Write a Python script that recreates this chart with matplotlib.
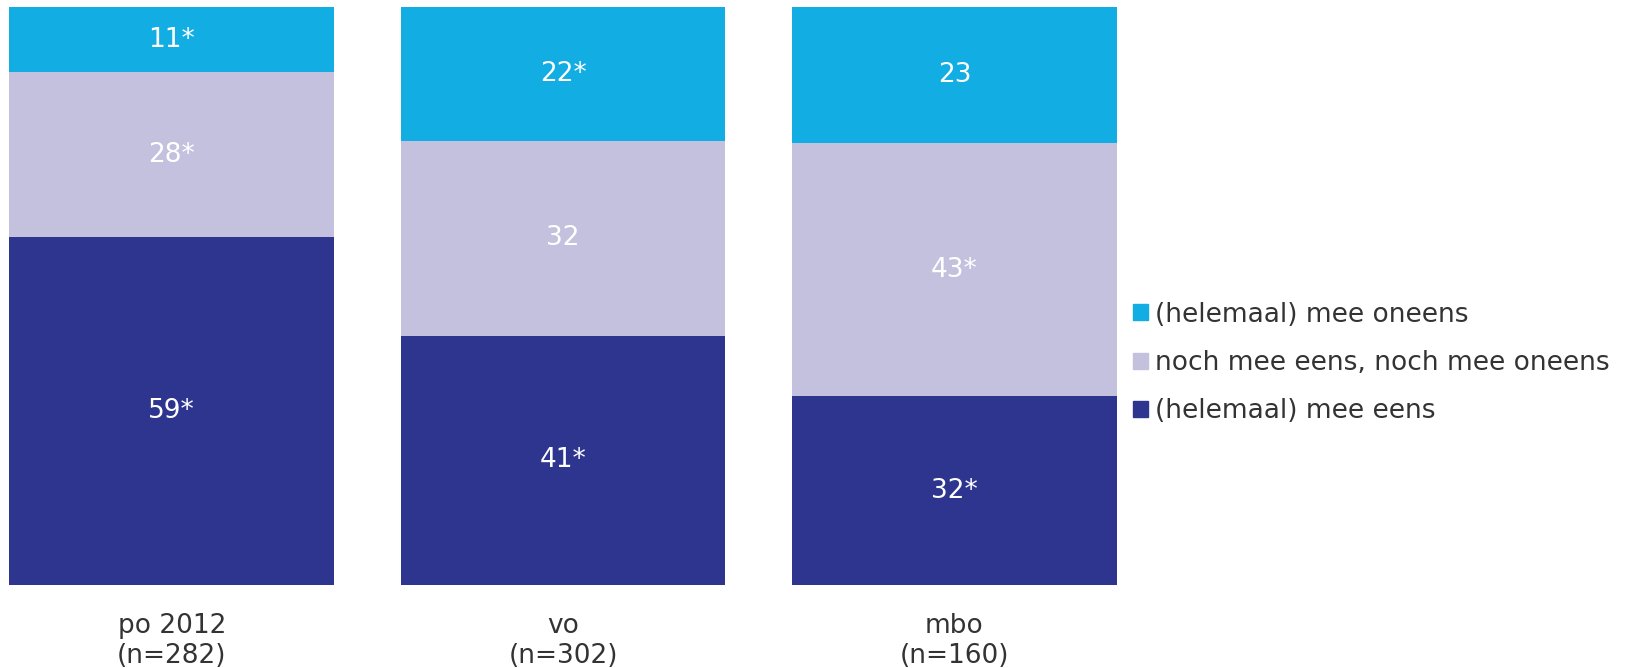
import matplotlib.pyplot as plt
import numpy as np
from matplotlib.patches import Patch

categories = ['po 2012\n(n=282)', 'vo\n(n=302)', 'mbo\n(n=160)']
eens = [59, 41, 32]
noch = [28, 32, 43]
oneens = [11, 22, 23]
eens_lbl = ['59*', '41*', '32*']
noch_lbl = ['28*', '32', '43*']
oneens_lbl = ['11*', '22*', '23']
series_names = ['(helemaal) mee eens', 'noch mee eens, noch mee oneens', '(helemaal) mee oneens']
colors = ['#2e358f', '#c4c1df', '#12ade3']

plt.rcParams['font.family'] = 'DejaVu Sans'
fs = 19

fig = plt.figure(figsize=(16.29, 6.68), dpi=100)
ax = fig.add_axes([9.35 / 1629, 83 / 668, 1107.45 / 1629, 577.7 / 668])

data = np.array([eens, noch, oneens], dtype=float)
pct = data / data.sum(axis=0) * 100
labels = [eens_lbl, noch_lbl, oneens_lbl]

x = np.arange(len(categories))
bottom = np.zeros(len(categories))
for i in range(3):
    bars = ax.bar(x, pct[i], bottom=bottom, width=0.83, color=colors[i], label=series_names[i])
    ax.bar_label(bars, labels=labels[i], label_type='center', color='white', fontsize=fs)
    bottom += pct[i]

ax.set_xlim(-0.415, 2.415)
ax.set_ylim(0, 100)
ax.set_yticks([])
ax.set_xticks(x)
ax.set_xticklabels(categories, fontsize=fs, color='#333333', linespacing=1.2)
ax.tick_params(axis='x', length=0, pad=20)
for s in ax.spines.values():
    s.set_visible(False)

handles = [Patch(color=colors[i]) for i in [2, 1, 0]]
names = [series_names[i] for i in [2, 1, 0]]
fig.legend(handles, names, loc='center left', bbox_to_anchor=(1133 / 1629, 1 - 363 / 668),
           frameon=False, fontsize=fs, labelcolor='#333333', borderpad=0, borderaxespad=0,
           handlelength=0.55, handleheight=0.55, handletextpad=0.3, labelspacing=0.85)

fig.savefig('out.png', dpi=100)
